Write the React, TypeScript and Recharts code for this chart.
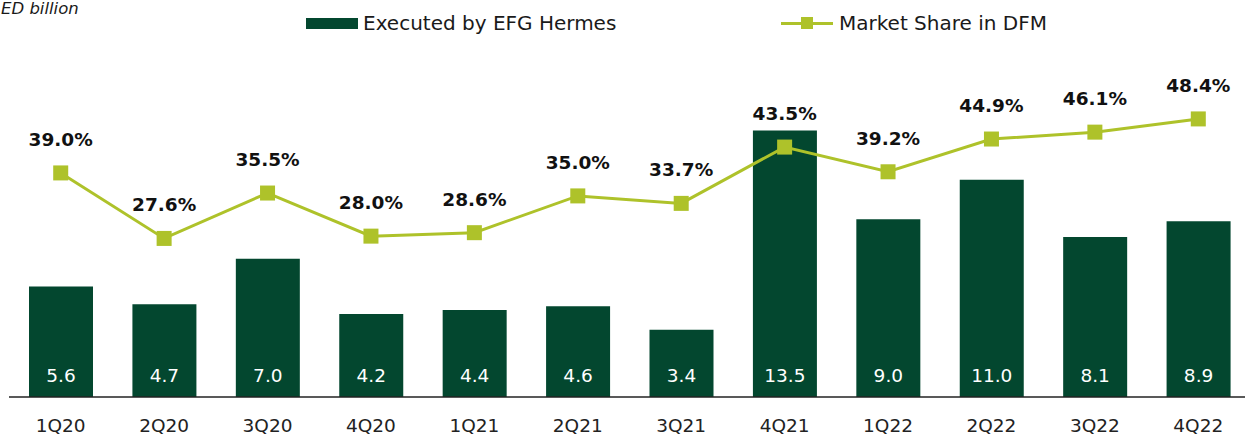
import { ComposedChart, Bar, Line, XAxis, YAxis, LabelList } from 'recharts'

const quarters = ['1Q20', '2Q20', '3Q20', '4Q20', '1Q21', '2Q21', '3Q21', '4Q21', '1Q22', '2Q22', '3Q22', '4Q22']
const executed = [5.6, 4.7, 7.0, 4.2, 4.4, 4.6, 3.4, 13.5, 9.0, 11.0, 8.1, 8.9]
const marketShare = [39.0, 27.6, 35.5, 28.0, 28.6, 35.0, 33.7, 43.5, 39.2, 44.9, 46.1, 48.4]

const barColor = '#03472F'
const lineColor = '#AEC22A'
const fontFamily = '"DejaVu Sans", sans-serif'

const data = quarters.map((q, i) => ({ quarter: q, executed: executed[i], share: marketShare[i] }))

function QuarterTick(props: any) {
  const { x, y, payload } = props
  return (
    <text x={x} y={y} dy={35} textAnchor="middle" fill="#222" fontSize={18.5} fontFamily={fontFamily}>
      {payload.value}
    </text>
  )
}

function BarValue(props: any) {
  const { x, y, width, height, value } = props
  return (
    <text x={x + width / 2} y={y + height - 15} textAnchor="middle" fill="#fff" fontSize={18.5} fontFamily={fontFamily}>
      {Number(value).toFixed(1)}
    </text>
  )
}

function ShareValue(props: any) {
  const { x, y, value } = props
  return (
    <text x={x} y={y - 27} textAnchor="middle" fill="#111" fontSize={18.5} fontWeight="bold" fontFamily={fontFamily}>
      {Number(value).toFixed(1)}%
    </text>
  )
}

function SquareDot(props: any) {
  const { cx, cy } = props
  if (cx == null || cy == null) return null
  return <rect x={cx - 7.5} y={cy - 7.5} width={15} height={15} fill={lineColor} />
}

function TopLegend() {
  return (
    <div style={{ position: 'absolute', left: 0, top: 0, width: 1245, height: 40, fontFamily, color: '#1a1a1a', zIndex: 1 }}>
      <span style={{ position: 'absolute', left: 1, top: -1, fontSize: 16.5, fontStyle: 'italic', whiteSpace: 'nowrap' }}>ED billion</span>
      <span style={{ position: 'absolute', left: 306, top: 18, width: 52, height: 11, background: barColor }} />
      <span style={{ position: 'absolute', left: 363, top: 11, fontSize: 20, whiteSpace: 'nowrap' }}>Executed by EFG Hermes</span>
      <span style={{ position: 'absolute', left: 781, top: 22, width: 52, height: 3, background: lineColor }} />
      <span style={{ position: 'absolute', left: 801, top: 17, width: 12, height: 12, background: lineColor }} />
      <span style={{ position: 'absolute', left: 839, top: 11, fontSize: 20, whiteSpace: 'nowrap' }}>Market Share in DFM</span>
    </div>
  )
}

export default function App() {
  return (
    <div style={{ position: 'relative', width: 1245, height: 435, overflow: 'hidden', background: '#fff' }}>
      <style>{`body { margin: 0; }`}</style>
      <TopLegend />
      <ComposedChart width={1250} height={435} data={data} margin={{ top: 81, right: 0, bottom: 0, left: 9 }}>
        <XAxis
          dataKey="quarter"
          axisLine={{ stroke: '#222', strokeWidth: 1.5 }}
          tickLine={false}
          tickSize={0}
          tickMargin={0}
          height={38}
          interval={0}
          tick={<QuarterTick />}
        />
        <YAxis yAxisId="bars" hide domain={[0, 16]} />
        <YAxis yAxisId="share" hide orientation="right" domain={[0, 55]} />
        <Bar yAxisId="bars" dataKey="executed" name="Executed by EFG Hermes" fill={barColor} barSize={64} isAnimationActive={false}>
          <LabelList dataKey="executed" content={<BarValue />} />
        </Bar>
        <Line
          yAxisId="share"
          dataKey="share"
          name="Market Share in DFM"
          stroke={lineColor}
          strokeWidth={3}
          dot={<SquareDot />}
          activeDot={false}
          isAnimationActive={false}
        >
          <LabelList dataKey="share" content={<ShareValue />} />
        </Line>
      </ComposedChart>
    </div>
  )
}
